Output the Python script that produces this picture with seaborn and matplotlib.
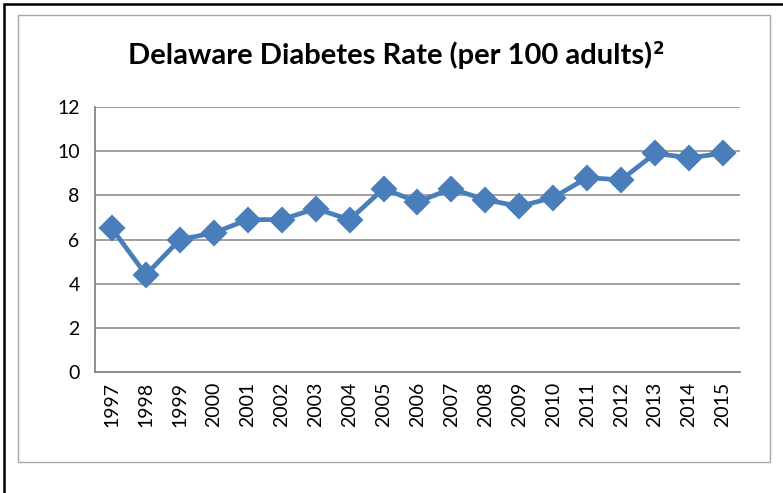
import matplotlib
matplotlib.use("Agg")
import matplotlib.pyplot as plt
from matplotlib.patches import Rectangle
from matplotlib.ticker import FixedLocator
import numpy as np
import pandas as pd
import seaborn as sns

# ------------------------------------------------------------------------------
# Data
# ------------------------------------------------------------------------------
years = ["1997", "1998", "1999", "2000", "2001", "2002", "2003", "2004", "2005", "2006",
         "2007", "2008", "2009", "2010", "2011", "2012", "2013", "2014", "2015"]
rates = [6.5, 4.4, 6.0, 6.3, 6.9, 6.9, 7.4, 6.9, 8.3, 7.7,
         8.3, 7.8, 7.5, 7.9, 8.8, 8.7, 9.9, 9.7, 9.9]
y_ticks = [0, 2, 4, 6, 8, 10, 12]
title = "Delaware Diabetes Rate (per 100 adults)"
title_sup = "2"

line_color = "#4A7EBB"
axis_gray = "#868686"

df = pd.DataFrame({"year": years, "rate": rates})

sns.set_style("white")
plt.rcParams["font.family"] = ["Lato", "DejaVu Sans"]
plt.rcParams["text.color"] = "black"
plt.rcParams["xtick.color"] = "black"
plt.rcParams["ytick.color"] = "black"

fig = plt.figure(figsize=(7.83, 4.93), dpi=100)

# outer black frame and inner gray chart border (Excel look)
fig.patches.append(Rectangle((4 / 783, -0.05), 1.2, 1 - 4 / 493 + 0.05, transform=fig.transFigure,
                             fill=False, edgecolor="black", linewidth=1.8, zorder=0))
fig.patches.append(Rectangle((18 / 783, 1 - 462 / 493), 752 / 783, 447 / 493, transform=fig.transFigure,
                             fill=False, edgecolor="#A6A6A6", linewidth=1.0, zorder=0))

ax = fig.add_axes([95 / 783, 1 - 372 / 493, 645 / 783, 265 / 493])

sns.pointplot(data=df, x="year", y="rate", color=line_color, markers="D",
              markersize=11, linewidth=3.4, errorbar=None, ax=ax)

ax.set_xlim(-0.5, len(years) - 0.5)
ax.set_ylim(0, 12)
ax.set_yticks(y_ticks)
ax.yaxis.grid(True, color=axis_gray, linewidth=1.1)
ax.set_axisbelow(True)

for side in ["top", "right"]:
    ax.spines[side].set_visible(False)
for side in ["left", "bottom"]:
    ax.spines[side].set_color(axis_gray)
    ax.spines[side].set_linewidth(1.3)

ax.tick_params(axis="y", length=5, width=1.2, color=axis_gray, labelcolor="black", labelsize=14, pad=6)
ax.tick_params(axis="x", which="major", length=0, labelcolor="black", labelsize=14, pad=7, labelrotation=90)
ax.xaxis.set_minor_locator(FixedLocator(np.arange(-0.5, len(years), 1.0)))
ax.tick_params(axis="x", which="minor", length=6, width=1.2, color=axis_gray)

ax.set_xlabel("")
ax.set_ylabel("")

# title with a bold superscript placed right after the main text
t = fig.text(390 / 783, 1 - 55 / 493, title, ha="center", va="center",
             fontsize=21, fontweight="bold", color="black")
fig.canvas.draw()
bb = t.get_window_extent().transformed(fig.transFigure.inverted())
fig.text(bb.x1 + 1 / 783, bb.y1 + 1 / 493, title_sup, ha="left", va="top",
         fontsize=12, fontweight="bold", family="DejaVu Sans", color="black")

plt.savefig("out.png", dpi=100)
plt.close()
